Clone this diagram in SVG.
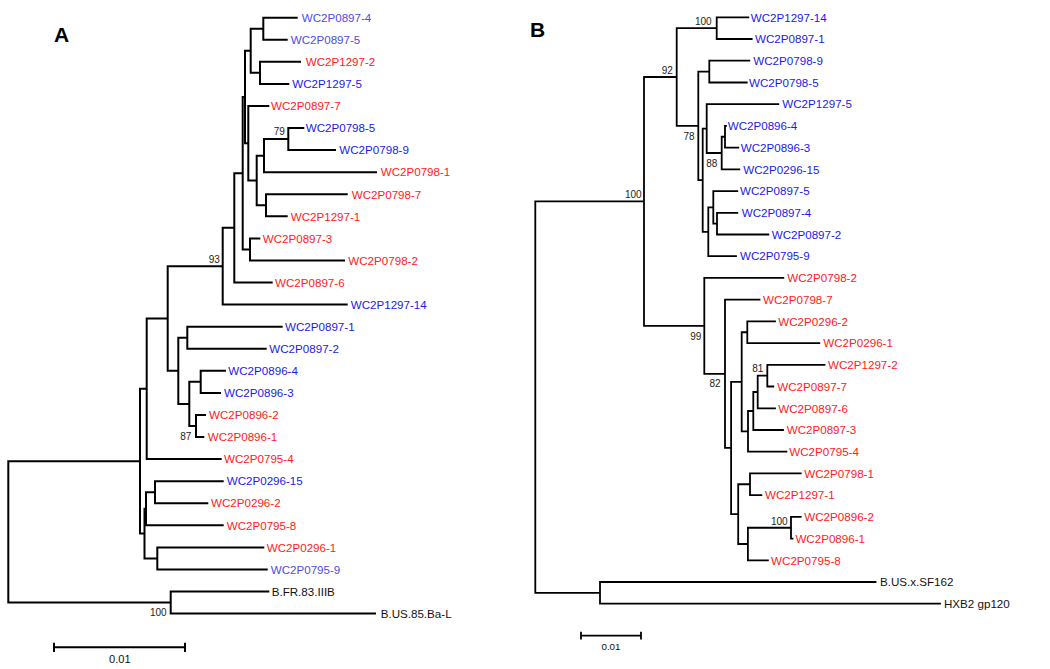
<svg xmlns="http://www.w3.org/2000/svg" width="1050" height="669" viewBox="0 0 1050 669">
<style>
.t{font-family:"Liberation Sans",Arial,sans-serif;font-size:11.6px}
.r{fill:#ff2020}.b{fill:#1a1ae8}.lb{fill:#4d4de2}.k{fill:#111}
.bs{font-family:"Liberation Sans",Arial,sans-serif;font-size:10px;fill:#222;text-anchor:middle}
.hd{font-family:"Liberation Sans",Arial,sans-serif;font-size:21px;font-weight:bold;fill:#000}
.brA{fill:none;stroke:#000;stroke-width:2;stroke-linecap:square}
.brB{fill:none;stroke:#000;stroke-width:1.8;stroke-linecap:square}
.sc{fill:none;stroke:#000;stroke-width:2}
</style>
<rect width="1050" height="669" fill="#fff"/>
<text class="hd" x="54" y="41.7">A</text>
<text class="hd" x="530" y="36.7">B</text>
<g id="connectors">
<path class="brA" d="M263.3 17.7H296.7M263.3 39.8H286.7M260 61.8H300M260 83.9H288.3M248.3 106H268.3M288.3 128.1H303.3M288.3 150.1H335M264 172.2H376M266 194.3H346.7M266 216.3H286.7M250 238.4H259.3M250 260.5H344M234.3 282.5H271.7M222.7 304.6H346.7M187.3 326.7H281.7M187.3 348.8H265.7M200.7 370.8H225M200.7 392.9H220M196 415H205M196 437H203.3M146.7 459.1H220.7M155 481.2H222.7M155 503.2H207.3M146 525.3H222.7M157.3 547.4H263.3M157.3 569.5H266.7M170.7 591.5H268.3M170.7 613.6H375
M263.3 17.7V39.8M250.7 28.75H263.3M260 61.8V83.9M250.7 72.85H260M250.7 28.75V72.85M245 50.8H250.7
M288.3 128.1V150.1M264 139.1H288.3M264 139.1V172.2M256.7 155.65H264M266 194.3V216.3M256.7 205.3H266M256.7 155.65V205.3M248.3 180.5H256.7M248.3 106V180.5M245 143.25H248.3M245 50.8V143.25M242.7 97H245
M250 238.4V260.5M242.7 249.45H250M242.7 97V249.45M234.3 173.2H242.7M234.3 173.2V282.5M222.7 227.85H234.3M222.7 227.85V304.6M167.7 266.2H222.7
M187.3 326.7V348.8M178.3 337.75H187.3M200.7 370.8V392.9M189.3 381.85H200.7M196 415V437M189.3 426H196M189.3 381.85V426M178.3 403.9H189.3M178.3 337.75V403.9M167.7 370.8H178.3M167.7 266.2V370.8M146.7 318.5H167.7M146.7 318.5V459.1M140 388.8H146.7
M155 481.2V503.2M146 492.2H155M146 492.2V525.3M144.5 508.75H146M157.3 547.4V569.5M144.5 558.45H157.3M144.5 508.75V558.45M140 533.6H144.5M140 388.8V533.6M8.3 461.2H140
M170.7 591.5V613.6M8.3 602.55H170.7M8.3 461.2V602.55"/>
<path class="brB" d="M716.7 17.3H748.3M716.7 39H751.7M709.3 60.7H749.3M709.3 82.5H746.7M706.7 104.2H778.3M725 125.9H726M725 147.6H738.3M721.7 169.3H739.3M713.3 191.1H737.3M717 212.8H737.3M717 234.5H768.3M708.3 256.2H736M704.3 277.9H783.3M725 299.7H759.5M747.3 321.4H775M747.3 343.1H819.3M767.3 364.8H824.5M767.3 386.5H773.3M757.7 408.3H775M753.3 430H783M748 451.7H786.4M750 473.4H800.7M750 495.1H761.4M791 516.9H800.7M791 538.6H792.5M747.9 560.3H767.9M600 582H875.5M600 603.7H940
M716.7 17.3V39M676.7 28.15H716.7M709.3 60.7V82.5M698.3 71.6H709.3M725 125.9V147.6M721.7 136.75H725M721.7 136.75V169.3M706.7 153H721.7M706.7 104.2V153M702.7 128.6H706.7
M717 212.8V234.5M713.3 223.65H717M713.3 191.1V223.65M708.3 207.4H713.3M708.3 207.4V256.2M702.7 231.8H708.3M702.7 128.6V231.8M698.3 180.2H702.7M698.3 71.6V180.2M676.7 125.9H698.3M676.7 28.15V125.9M644 77H676.7
M767.3 364.8V386.5M757.7 375.65H767.3M757.7 375.65V408.3M753.3 392H757.7M753.3 392V430M748 411H753.3M748 411V451.7M741.7 431.35H748M747.3 321.4V343.1M741.7 332.25H747.3M741.7 332.25V431.35M731.1 381.8H741.7
M750 473.4V495.1M738.2 484.25H750M791 516.9V538.6M747.9 527.75H791M747.9 527.75V560.3M738.2 544H747.9M738.2 484.25V544M731.1 514.1H738.2M731.1 381.8V514.1M725 447.95H731.1M725 299.7V447.95M704.3 373.8H725M704.3 277.9V373.8M644 325.85H704.3M644 77V325.85M535.3 201.4H644
M600 582V603.7M535.3 592.85H600M535.3 201.4V592.85"/>
</g>
<g id="bootstrap">
<text class="bs" x="279.3" y="135.3">79</text>
<text class="bs" x="214.3" y="262.9">93</text>
<text class="bs" x="185.7" y="439.6">87</text>
<text class="bs" x="158.3" y="616.3">100</text>
<text class="bs" x="703.3" y="25.3">100</text>
<text class="bs" x="667.3" y="73.6">92</text>
<text class="bs" x="689" y="140.3">78</text>
<text class="bs" x="711.7" y="166.9">88</text>
<text class="bs" x="633.3" y="197.9">100</text>
<text class="bs" x="695.7" y="339.6">99</text>
<text class="bs" x="715" y="386.9">82</text>
<text class="bs" x="757.7" y="371.9">81</text>
<text class="bs" x="779.3" y="524.6">100</text>
</g>
<g id="treeA-leaves">
<g id="A-WC2P0897-4"><text class="t lb" x="301.7" y="21.9">WC2P0897-4</text></g>
<g id="A-WC2P0897-5"><text class="t lb" x="290.7" y="44">WC2P0897-5</text></g>
<g id="A-WC2P1297-2"><text class="t r" x="305.7" y="66">WC2P1297-2</text></g>
<g id="A-WC2P1297-5"><text class="t b" x="292.3" y="88.1">WC2P1297-5</text></g>
<g id="A-WC2P0897-7"><text class="t r" x="271" y="110.2">WC2P0897-7</text></g>
<g id="A-WC2P0798-5"><text class="t b" x="305.7" y="132.3">WC2P0798-5</text></g>
<g id="A-WC2P0798-9"><text class="t b" x="339.3" y="154.3">WC2P0798-9</text></g>
<g id="A-WC2P0798-1"><text class="t r" x="380.7" y="176.4">WC2P0798-1</text></g>
<g id="A-WC2P0798-7"><text class="t r" x="351.7" y="198.5">WC2P0798-7</text></g>
<g id="A-WC2P1297-1"><text class="t r" x="290.7" y="220.5">WC2P1297-1</text></g>
<g id="A-WC2P0897-3"><text class="t r" x="262.7" y="242.6">WC2P0897-3</text></g>
<g id="A-WC2P0798-2"><text class="t r" x="348.3" y="264.7">WC2P0798-2</text></g>
<g id="A-WC2P0897-6"><text class="t r" x="275" y="286.7">WC2P0897-6</text></g>
<g id="A-WC2P1297-14"><text class="t b" x="350.7" y="308.8">WC2P1297-14</text></g>
<g id="A-WC2P0897-1"><text class="t b" x="285" y="330.9">WC2P0897-1</text></g>
<g id="A-WC2P0897-2"><text class="t b" x="269.3" y="353">WC2P0897-2</text></g>
<g id="A-WC2P0896-4"><text class="t b" x="228.3" y="375">WC2P0896-4</text></g>
<g id="A-WC2P0896-3"><text class="t b" x="224" y="397.1">WC2P0896-3</text></g>
<g id="A-WC2P0896-2"><text class="t r" x="209" y="419.2">WC2P0896-2</text></g>
<g id="A-WC2P0896-1"><text class="t r" x="207.7" y="441.2">WC2P0896-1</text></g>
<g id="A-WC2P0795-4"><text class="t r" x="224" y="463.3">WC2P0795-4</text></g>
<g id="A-WC2P0296-15"><text class="t b" x="226.7" y="485.4">WC2P0296-15</text></g>
<g id="A-WC2P0296-2"><text class="t r" x="211" y="507.4">WC2P0296-2</text></g>
<g id="A-WC2P0795-8"><text class="t r" x="226.7" y="529.5">WC2P0795-8</text></g>
<g id="A-WC2P0296-1"><text class="t r" x="266.7" y="551.6">WC2P0296-1</text></g>
<g id="A-WC2P0795-9"><text class="t lb" x="270.7" y="573.7">WC2P0795-9</text></g>
<g id="A-B.FR.83.IIIB"><text class="t k" x="271.7" y="595.7">B.FR.83.IIIB</text></g>
<g id="A-B.US.85.Ba-L"><text class="t k" x="380.7" y="617.8">B.US.85.Ba-L</text></g>
</g>
<g id="treeB-leaves">
<g id="B-WC2P1297-14"><text class="t b" x="750.7" y="21.5">WC2P1297-14</text></g>
<g id="B-WC2P0897-1"><text class="t b" x="755" y="43.2">WC2P0897-1</text></g>
<g id="B-WC2P0798-9"><text class="t b" x="753.3" y="64.9">WC2P0798-9</text></g>
<g id="B-WC2P0798-5"><text class="t b" x="749" y="86.7">WC2P0798-5</text></g>
<g id="B-WC2P1297-5"><text class="t b" x="782.3" y="108.4">WC2P1297-5</text></g>
<g id="B-WC2P0896-4"><text class="t b" x="727.7" y="130.1">WC2P0896-4</text></g>
<g id="B-WC2P0896-3"><text class="t b" x="740.7" y="151.8">WC2P0896-3</text></g>
<g id="B-WC2P0296-15"><text class="t b" x="743.3" y="173.5">WC2P0296-15</text></g>
<g id="B-WC2P0897-5"><text class="t b" x="740" y="195.3">WC2P0897-5</text></g>
<g id="B-WC2P0897-4"><text class="t b" x="741.7" y="217">WC2P0897-4</text></g>
<g id="B-WC2P0897-2"><text class="t b" x="771.7" y="238.7">WC2P0897-2</text></g>
<g id="B-WC2P0795-9"><text class="t b" x="740" y="260.4">WC2P0795-9</text></g>
<g id="B-WC2P0798-2"><text class="t r" x="787.3" y="282.1">WC2P0798-2</text></g>
<g id="B-WC2P0798-7"><text class="t r" x="763" y="303.9">WC2P0798-7</text></g>
<g id="B-WC2P0296-2"><text class="t r" x="778.3" y="325.6">WC2P0296-2</text></g>
<g id="B-WC2P0296-1"><text class="t r" x="823.3" y="347.3">WC2P0296-1</text></g>
<g id="B-WC2P1297-2"><text class="t r" x="828" y="369">WC2P1297-2</text></g>
<g id="B-WC2P0897-7"><text class="t r" x="777.3" y="390.7">WC2P0897-7</text></g>
<g id="B-WC2P0897-6"><text class="t r" x="778.3" y="412.5">WC2P0897-6</text></g>
<g id="B-WC2P0897-3"><text class="t r" x="786.7" y="434.2">WC2P0897-3</text></g>
<g id="B-WC2P0795-4"><text class="t r" x="789.3" y="455.9">WC2P0795-4</text></g>
<g id="B-WC2P0798-1"><text class="t r" x="804.3" y="477.6">WC2P0798-1</text></g>
<g id="B-WC2P1297-1"><text class="t r" x="765" y="499.3">WC2P1297-1</text></g>
<g id="B-WC2P0896-2"><text class="t r" x="804.3" y="521.1">WC2P0896-2</text></g>
<g id="B-WC2P0896-1"><text class="t r" x="795.4" y="542.8">WC2P0896-1</text></g>
<g id="B-WC2P0795-8"><text class="t r" x="771.1" y="564.5">WC2P0795-8</text></g>
<g id="B-B.US.x.SF162"><text class="t k" x="880" y="586.2">B.US.x.SF162</text></g>
<g id="B-HXB2"><text class="t k" x="944" y="607.9">HXB2 gp120</text></g>
</g>
<g id="scalebars">
<path class="sc" d="M54 647.3H185M54 642.7V651.9M185 642.7V651.9"/>
<text class="t k" x="119.8" y="663" text-anchor="middle" style="font-size:11.1px">0.01</text>
<path class="sc" style="stroke-width:1.8" d="M581 635.7H641M581 631.7V639.5M641 631.7V639.5"/>
<text class="t k" x="611" y="649.5" text-anchor="middle" style="font-size:9.8px">0.01</text>
</g>
</svg>
